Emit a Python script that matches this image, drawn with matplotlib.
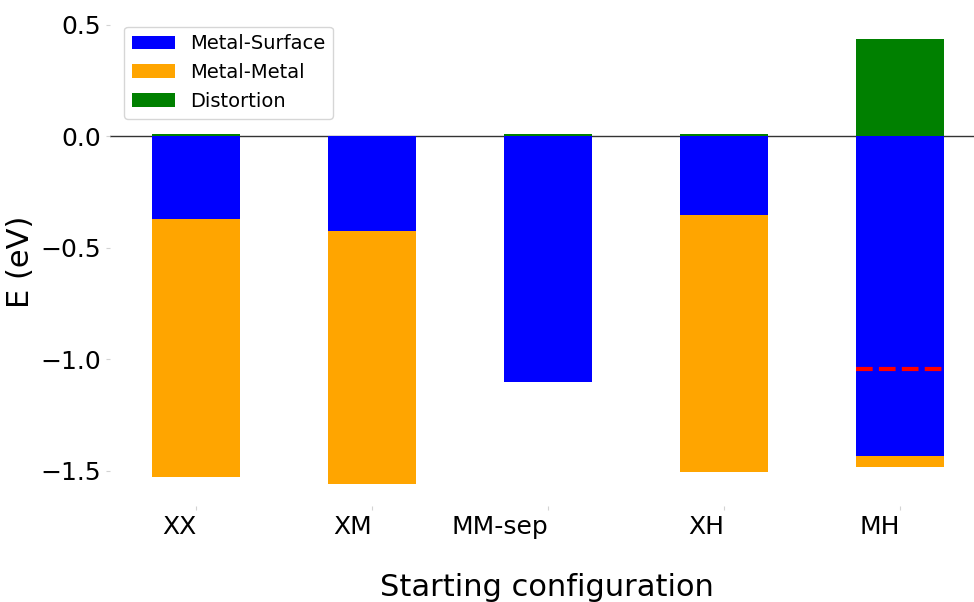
import numpy as np
import matplotlib.pyplot as plt

# Energy decomposition per starting configuration (eV)
configs = ['XX', 'XM', 'MM-sep', 'XH', 'MH']
metal_surface = [-0.372, -0.426, -1.103, -0.354, -1.435]
metal_metal = [-1.155, -1.134, 0.0, -1.153, -0.05]
distortion = [0.01, 0.0, 0.01, 0.01, 0.435]
ref_line = -1.045  # red dashed reference on MH

x = np.arange(len(configs))
width = 0.5

fig = plt.figure(figsize=(9.74, 6.02), dpi=100)
ax = fig.add_axes([0.113, 0.159, 0.897, 0.813])

ax.bar(x, metal_surface, width, color='blue', label='Metal-Surface')
ax.bar(x, metal_metal, width, bottom=metal_surface, color='orange', label='Metal-Metal')
ax.bar(x, distortion, width, color='green', label='Distortion')

ax.axhline(0, color='black', lw=1, alpha=0.8, zorder=0)
ax.hlines(ref_line, x[-1] - width / 2, x[-1] + width / 2, colors='red',
          linestyles=(0, (4, 1.5)), lw=3)

ax.set_xticks(x)
ax.set_xticklabels(configs, ha='right', fontsize=18)
ax.set_yticks([0.5, 0.0, -0.5, -1.0, -1.5])
ax.tick_params(axis='y', labelsize=18)
ax.tick_params(length=3, width=0.8, color='lightgray')
ax.set_xlim(-0.49, 4.475)
ax.set_ylim(-1.66, 0.535)

for s in ax.spines.values():
    s.set_visible(False)

ax.set_xlabel('Starting configuration', fontsize=22, labelpad=24)
ax.set_ylabel('E (eV)', fontsize=22)
ax.legend(loc='upper left', fontsize=14, bbox_to_anchor=(0.005, 1.0),
          handlelength=2.2)

plt.savefig('out.png', dpi=100)
